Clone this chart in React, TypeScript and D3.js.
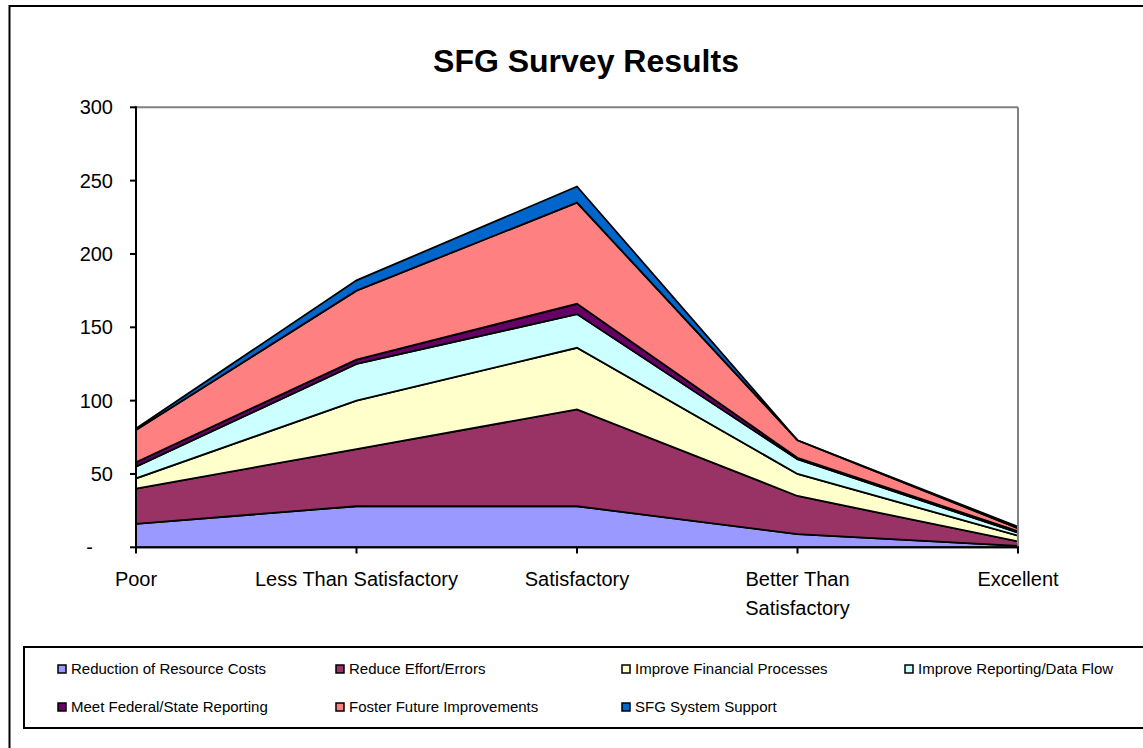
import React from "react";
import * as d3 from "d3";

const categories = ["Poor", "Less Than Satisfactory", "Satisfactory", "Better Than Satisfactory", "Excellent"];
const categoryLines = [["Poor"], ["Less Than Satisfactory"], ["Satisfactory"], ["Better Than", "Satisfactory"], ["Excellent"]];
const seriesNames = [
  "Reduction of Resource Costs",
  "Reduce Effort/Errors",
  "Improve Financial Processes",
  "Improve Reporting/Data Flow",
  "Meet Federal/State Reporting",
  "Foster Future Improvements",
  "SFG System Support",
];
const seriesColors = ["#9999FF", "#993366", "#FFFFCC", "#CCFFFF", "#660066", "#FF8080", "#0066CC"];
const reductionCosts = [16, 28, 28, 9, 1];
const reduceEffort = [24, 39, 66, 26, 3];
const improveFinancial = [7, 33, 42, 15, 4];
const improveReporting = [8, 25, 23, 10, 2];
const meetFederal = [3, 3, 7, 1, 1];
const fosterFuture = [22, 47, 69, 12, 2];
const systemSupport = [1, 7, 11, 0, 1];
const yTicks = [0, 50, 100, 150, 200, 250, 300];

const seriesValues = [reductionCosts, reduceEffort, improveFinancial, improveReporting, meetFederal, fosterFuture, systemSupport];

const FONT = "'Liberation Sans', Arial, sans-serif";

export default function App() {
  const table = categories.map((c, i) => {
    const row: any = { cat: c };
    seriesNames.forEach((s, j) => (row[s] = seriesValues[j][i]));
    return row;
  });
  const stacked = d3.stack().keys(seriesNames)(table);
  const x = d3.scalePoint().domain(categories).range([136, 1018]);
  const y = d3.scaleLinear().domain([0, 300]).range([547.3, 107.3]);
  const area = d3
    .area<any>()
    .x((d: any) => x(d.data.cat) as number)
    .y0((d: any) => y(d[0]))
    .y1((d: any) => y(d[1]));

  const legendCols = [58, 336, 622, 905];
  const legendRows = [669, 707];

  return (
    <div style={{ position: "absolute", left: 0, top: 0 }}>
      <svg width={1143} height={748} style={{ display: "block", background: "#fff" }}>
        <rect x={9.5} y={6} width={1160} height={760} fill="#fff" stroke="#000" strokeWidth={2} />
        <text x={586} y={72} textAnchor="middle" fontFamily={FONT} fontWeight="bold" fontSize={32} fill="#000">
          SFG Survey Results
        </text>
        {stacked.map((s, i) => (
          <path key={i} d={area(s as any) || ""} fill={seriesColors[i]} stroke="#000" strokeWidth={1.8} strokeLinejoin="miter" />
        ))}
        <line x1={136} x2={1018} y1={107.3} y2={107.3} stroke="#808080" strokeWidth={2} />
        <line x1={1018} x2={1018} y1={107.3} y2={547.3} stroke="#808080" strokeWidth={2} />
        <line x1={136} x2={136} y1={106.3} y2={548.3} stroke="#000" strokeWidth={2} />
        <line x1={135} x2={1019} y1={547.3} y2={547.3} stroke="#000" strokeWidth={2} />
        {yTicks.map((t) => (
          <g key={t}>
            <line x1={130} x2={136} y1={y(t)} y2={y(t)} stroke="#000" strokeWidth={2} />
            <text
              x={t === 0 ? 93 : 113}
              y={y(t)}
              dy="0.35em"
              textAnchor="end"
              fontFamily={FONT}
              fontSize={20}
              fill="#000"
            >
              {t === 0 ? "-" : String(t)}
            </text>
          </g>
        ))}
        {categories.map((c, i) => (
          <g key={c}>
            <line x1={x(c)} x2={x(c)} y1={547.3} y2={553.5} stroke="#000" strokeWidth={2} />
            {categoryLines[i].map((ln, k) => (
              <text key={k} x={x(c)} y={586 + k * 29} textAnchor="middle" fontFamily={FONT} fontSize={20} fill="#000">
                {ln}
              </text>
            ))}
          </g>
        ))}
        <rect x={24} y={647} width={1140} height={81} fill="#fff" stroke="#000" strokeWidth={2} />
        {seriesNames.map((s, i) => {
          const col = i % 4;
          const row = Math.floor(i / 4);
          const lx = legendCols[col];
          const ly = legendRows[row];
          return (
            <g key={s}>
              <rect x={lx} y={ly - 4} width={8} height={8} fill={seriesColors[i]} stroke="#000" strokeWidth={1.5} />
              <text x={lx + 13} y={ly} dy="0.35em" fontFamily={FONT} fontSize={15} fill="#000">
                {s}
              </text>
            </g>
          );
        })}
      </svg>
    </div>
  );
}
